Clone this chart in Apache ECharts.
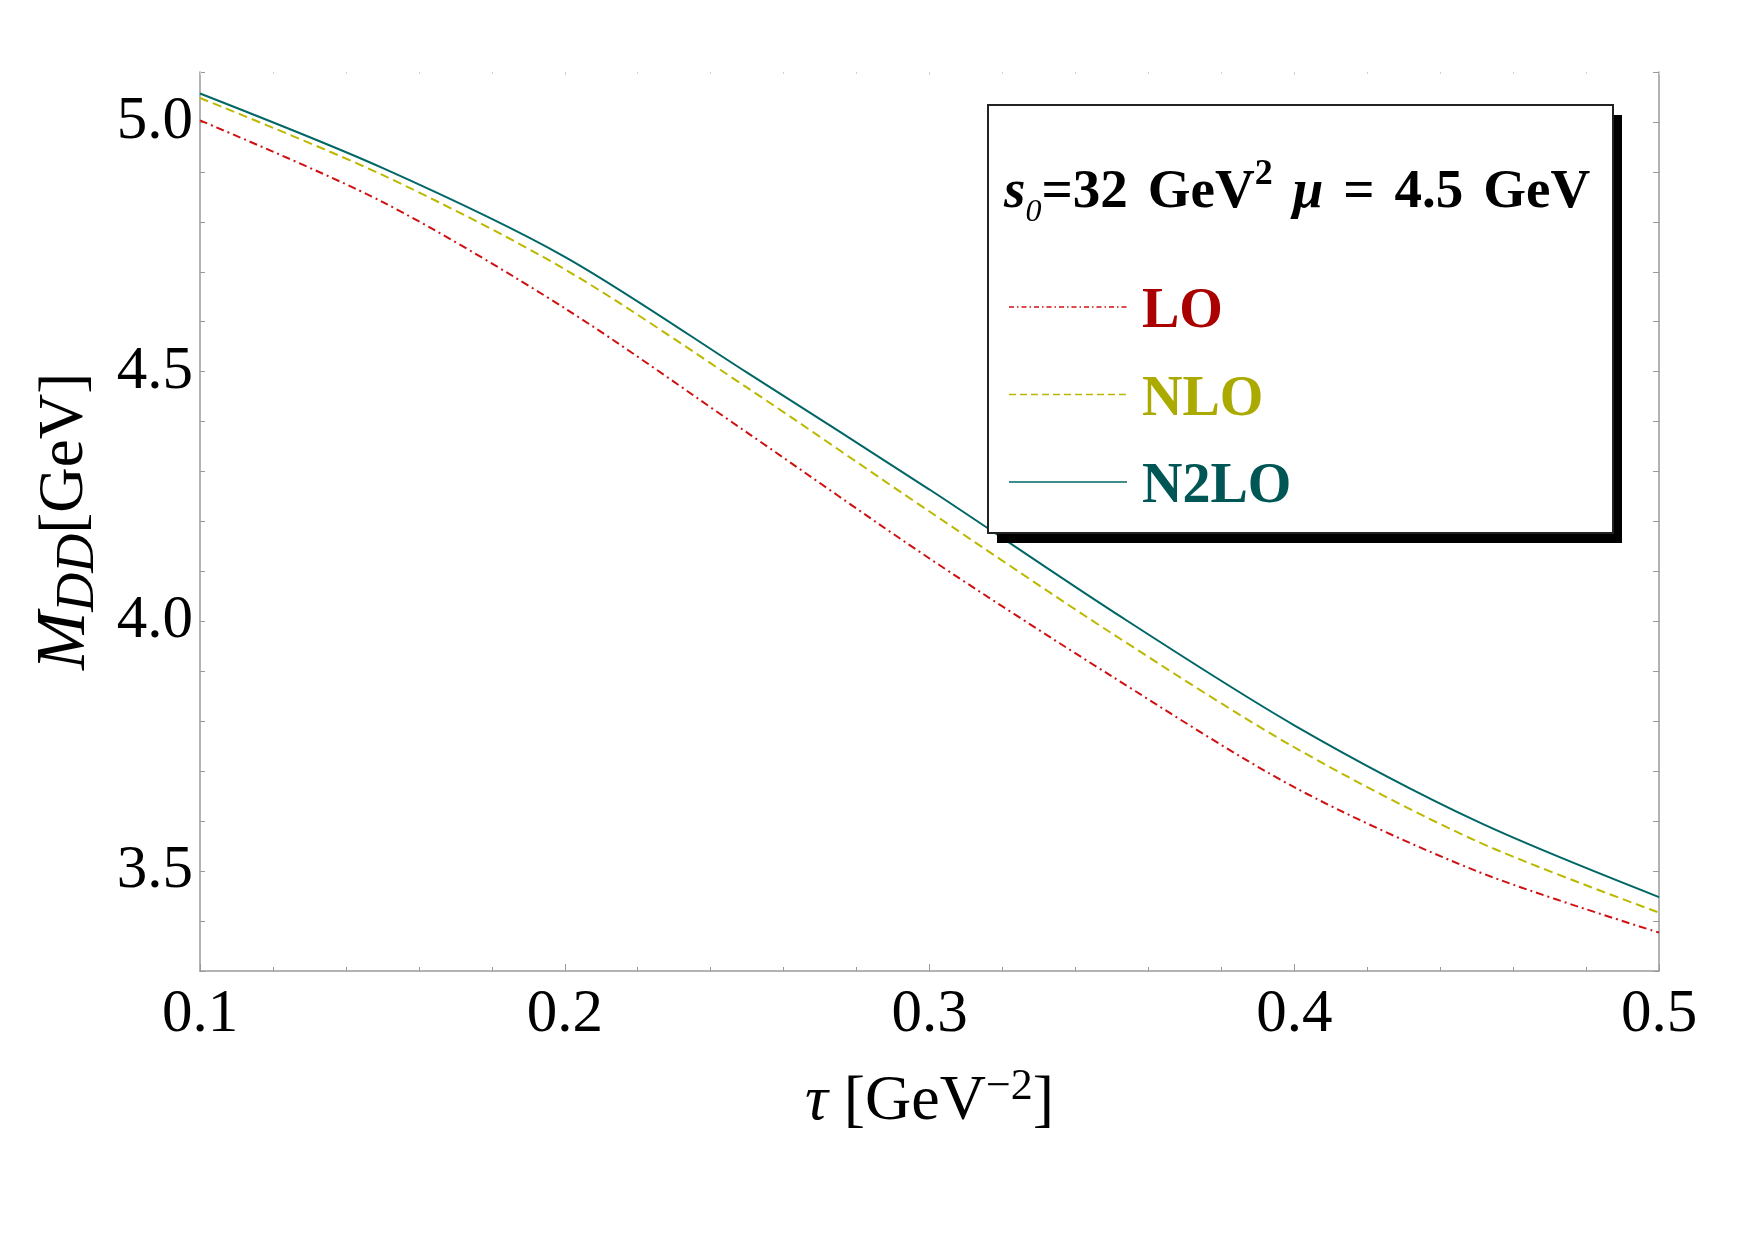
<!DOCTYPE html>
<html>
<head>
<meta charset="utf-8">
<script src="https://cdn.jsdelivr.net/npm/echarts@6/dist/echarts.min.js"></script>
<style>
  html, body { margin: 0; padding: 0; background: #fff; }
  #main { width: 1755px; height: 1240px; }
</style>
</head>
<body>
<div id="main"></div>
<script>
// tau [GeV^-2]
var tau = [0.10, 0.15, 0.20, 0.25, 0.30, 0.35, 0.40, 0.45, 0.50];
// M_DD [GeV]
var lo   = [5.003, 4.840, 4.627, 4.378, 4.126, 3.890, 3.668, 3.500, 3.377];
var nlo  = [5.048, 4.894, 4.705, 4.468, 4.220, 3.976, 3.748, 3.560, 3.417];
var n2lo = [5.057, 4.908, 4.730, 4.498, 4.264, 4.021, 3.792, 3.600, 3.448];

var seriesNames = ['LO', 'NLO', 'N2LO'];
var lineColors = ['#d01010', '#bcb800', '#006666'];
var textColors = ['#aa0000', '#aaaa00', '#005555'];
var dashes = [[8, 4, 2, 4], [9, 5], 'solid'];

var serif = '"Liberation Serif", "DejaVu Serif", serif';

function pairs(ys) {
  var out = [];
  for (var i = 0; i < tau.length; i++) out.push([tau[i], ys[i]]);
  return out;
}

var chart = echarts.init(document.getElementById('main'));

var frameColor = '#9a9a9a';

var option = {
  backgroundColor: '#fff',
  animation: false,
  grid: { left: 200, right: 96, top: 72, bottom: 269 },
  xAxis: [
    {
      type: 'value', min: 0.1, max: 0.5, interval: 0.1,
      axisLine: { show: true, onZero: false, lineStyle: { color: frameColor, width: 1.5 } },
      axisTick: { show: true, inside: true, length: 7, lineStyle: { color: frameColor } },
      minorTick: { show: true, splitNumber: 5, length: 4, lineStyle: { color: frameColor } },
      splitLine: { show: false },
      axisLabel: {
        fontFamily: serif, fontSize: 61, color: '#000', margin: 13,
        formatter: function (v) { return v.toFixed(1); }
      },
      name: '{i|τ} [GeV{sup|−2}]',
      nameLocation: 'middle',
      nameGap: 94,
      nameTextStyle: {
        fontFamily: serif, fontSize: 64, color: '#000', lineHeight: 74,
        rich: {
          i: { fontFamily: serif, fontSize: 64, fontStyle: 'italic', lineHeight: 74 },
          sup: { fontFamily: serif, fontSize: 44, lineHeight: 42, verticalAlign: 'top' }
        }
      }
    },
    {
      type: 'value', position: 'top', min: 0.1, max: 0.5, interval: 0.1,
      axisLine: { show: false },
      axisTick: { show: true, inside: true, length: 3, lineStyle: { color: '#d0d0d0' } },
      minorTick: { show: true, splitNumber: 5, length: 2, lineStyle: { color: '#d0d0d0' } },
      axisLabel: { show: false },
      splitLine: { show: false }
    }
  ],
  yAxis: [
    {
      type: 'value', min: 3.3, max: 5.1, interval: 0.1,
      axisLine: { show: true, onZero: false, lineStyle: { color: frameColor, width: 1.5 } },
      axisTick: { show: true, inside: true, length: 5, lineStyle: { color: frameColor } },
      splitLine: { show: false },
      axisLabel: {
        fontFamily: serif, fontSize: 61, color: '#000', margin: 7,
        formatter: function (v) {
          var k = Math.round(v * 10);
          return k % 5 === 0 ? (k / 10).toFixed(1) : '';
        }
      },
      name: '{i|M}{sub|DD}{r|[GeV]}',
      nameLocation: 'middle',
      nameRotate: 90,
      nameGap: 82,
      nameTextStyle: {
        fontFamily: serif, fontSize: 62, color: '#000',
        rich: {
          i: { fontFamily: serif, fontSize: 70, fontStyle: 'italic', lineHeight: 80 },
          sub: { fontFamily: serif, fontSize: 54, fontStyle: 'italic', lineHeight: 58, verticalAlign: 'bottom' },
          r: { fontFamily: serif, fontSize: 63, lineHeight: 80 }
        }
      }
    },
    {
      type: 'value', position: 'right', min: 3.3, max: 5.1, interval: 0.1,
      axisLine: { show: true, lineStyle: { color: frameColor, width: 1.5 } },
      axisTick: { show: true, inside: true, length: 6, lineStyle: { color: frameColor } },
      axisLabel: { show: false },
      splitLine: { show: false }
    }
  ],
  series: [lo, nlo, n2lo].map(function (ys, i) {
    return {
      name: seriesNames[i],
      type: 'line',
      data: pairs(ys),
      smooth: 0.3,
      showSymbol: false,
      lineStyle: { color: lineColors[i], width: 2, type: dashes[i] },
      z: 2 + i
    };
  }),
  graphic: [
    // legend box shadow + box
    { type: 'rect', shape: { x: 997, y: 115, width: 625, height: 428 }, style: { fill: '#000' }, z: 10 },
    { type: 'rect', shape: { x: 988, y: 105, width: 625, height: 428 },
      style: { fill: '#fff', stroke: '#222', lineWidth: 2 }, z: 11 },
    {
      type: 'text', x: 1004, y: 193, z: 12,
      style: {
        text: '{si|s}{sub|0}{b|=32}{sp| }{b|GeV}{sup|2}{sp| }{mu|μ}{sp| }{b|=}{sp| }{b|4.5}{sp| }{b|GeV}',
        verticalAlign: 'middle',
        rich: {
          si: { fontFamily: serif, fontSize: 55, fontWeight: 'bold', fontStyle: 'italic', lineHeight: 72, fill: '#000' },
          b: { fontFamily: serif, fontSize: 55, fontWeight: 'bold', lineHeight: 72, fill: '#000' },
          mu: { fontFamily: serif, fontSize: 55, fontWeight: 'bold', fontStyle: 'italic', lineHeight: 72, fill: '#000' },
          sp: { fontFamily: serif, fontSize: 55, width: 20, lineHeight: 72 },
          sub: { fontFamily: serif, fontSize: 32, fontStyle: 'italic', lineHeight: 48, verticalAlign: 'bottom', fill: '#000' },
          sup: { fontFamily: serif, fontSize: 36, fontWeight: 'bold', lineHeight: 30, verticalAlign: 'top', fill: '#000' }
        }
      }
    }
  ].concat(seriesNames.reduce(function (acc, nm, i) {
    var y = 307 + i * 87.5;
    acc.push({
      type: 'line', z: 12,
      shape: { x1: 1009, y1: y, x2: 1127, y2: y },
      style: { stroke: lineColors[i], lineWidth: 1.6, lineDash: dashes[i] === 'solid' ? null : (i === 0 ? [5, 3, 1.5, 3] : [7, 4]) }
    });
    acc.push({
      type: 'text', z: 12, x: 1142, y: y + 6,
      style: {
        text: nm, fill: textColors[i], fontFamily: serif, fontSize: 56, fontWeight: 'bold',
        verticalAlign: 'middle'
      }
    });
    return acc;
  }, []))
};

chart.setOption(option);
window.onresize = function () { chart.resize(); };
</script>
</body>
</html>
